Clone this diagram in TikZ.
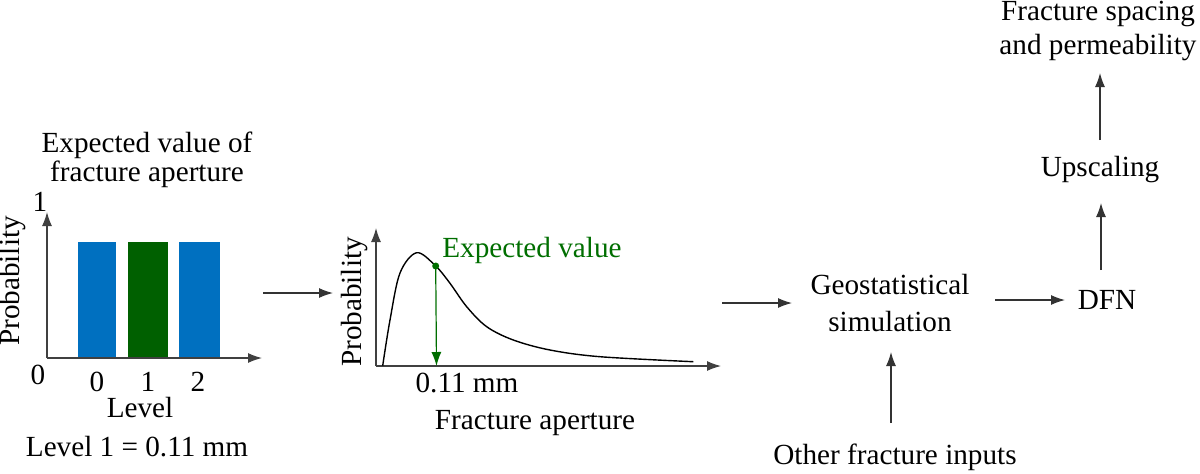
\documentclass[tikz,border=0pt]{standalone}
\usepackage{fontspec}
\setmainfont{Liberation Serif}
\usetikzlibrary{arrows.meta}
\definecolor{barblue}{RGB}{0,112,192}
\definecolor{bargreen}{RGB}{0,96,0}
\definecolor{txtgreen}{RGB}{0,110,0}
\tikzset{
  lbl/.style={font=\fontsize{14.6}{16}\selectfont, inner sep=0pt, align=center},
  digit/.style={lbl, text height=9pt, text depth=0pt},
  conn/.style={draw=black!80, line width=0.6pt, -{Latex[length=7pt,width=5pt]}},
  axis/.style={draw=black!75, line width=0.6pt, -{Latex[length=7pt,width=5pt]}},
}
\begin{document}
\begin{tikzpicture}[x=0.5pt,y=-0.5pt]
\useasboundingbox (0,0) rectangle (1200,473);
% ---------- chart 1 ----------
\node[lbl, font=\fontsize{14.6}{13.3}\selectfont] (title1) at (147,160) {Expected value of\\fracture aperture};
\coordinate (o1) at (47,358);
\coordinate (y1) at (47,212);
\coordinate (x1) at (262,358);
\draw[axis] (o1) -- (y1);
\draw[axis] (o1) -- (x1);
\fill[barblue] (78,242) rectangle (116,357);
\fill[bargreen] (128,242) rectangle (168,357);
\fill[barblue] (179,242) rectangle (220,357);
\node[digit] (one) at (40,202) {1};
\node[digit] (zero) at (38,375) {0};
\node[digit] (l0) at (97,382) {0};
\node[digit] (l1) at (148,382) {1};
\node[digit] (l2) at (198,382) {2};
\node[lbl, text height=9.5pt, text depth=0pt] (level) at (140,408) {Level};
\node[lbl] (levdef) at (137,447) {Level 1 = 0.11 mm};
\node[lbl, rotate=90] (prob1) at (13,281) {Probability};
% ---------- arrow between charts ----------
\coordinate (c1out) at (263,293);
\coordinate (c2in) at (333,293);
\draw[conn] (c1out) -- (c2in);
% ---------- chart 2 ----------
\coordinate (o2) at (376,366);
\coordinate (y2) at (376,228);
\coordinate (x2) at (721,366);
\draw[axis] (o2) -- (y2);
\draw[axis] (o2) -- (x2);
\draw[black, line width=0.7pt] plot[smooth, tension=0.55] coordinates {
 (382.7,365.7) (390,320) (400,273) (416.7,252.7) (435.7,266) (450,283.3)
 (466.7,306.7) (486.7,326.7) (513.3,340) (550,350) (600,356.7) (693.3,361.7)};
\coordinate (ev) at (435.7,266);
\coordinate (evb) at (436.5,366);
\fill[txtgreen] (ev) circle (3.5);
\draw[draw=txtgreen, line width=0.6pt, -{Latex[length=7pt,width=5pt]}] (ev) -- (evb);
\node[lbl, text=txtgreen, anchor=west] (evl) at (442,250) {Expected value};
\node[lbl] (mm) at (467,383) {0.11 mm};
\node[lbl] (fa) at (535,423) {Fracture aperture};
\node[lbl, rotate=90] (prob2) at (355,302) {Probability};
% ---------- flow ----------
\coordinate (c2out) at (722,303);
\node[lbl, font=\fontsize{14.6}{18.3}\selectfont] (geo) at (890,303) {Geostatistical\\simulation};
\node[lbl] (dfn) at (1107,300) {DFN};
\node[lbl] (up) at (1100,170) {Upscaling};
\node[lbl, font=\fontsize{14.6}{16.7}\selectfont] (fsp) at (1098,31) {Fracture spacing\\and permeability};
\node[lbl] (other) at (895,457) {Other fracture inputs};
\coordinate (geoin) at (792,303);
\draw[conn] (c2out) -- (geoin);
\coordinate (geoout) at (995,300);
\coordinate (dfnin) at (1065,300);
\draw[conn] (geoout) -- (dfnin);
\coordinate (dfnup) at (1101,270);
\coordinate (upin) at (1101,203);
\draw[conn] (dfnup) -- (upin);
\coordinate (upout) at (1100,140);
\coordinate (fspin) at (1100,73);
\draw[conn] (upout) -- (fspin);
\coordinate (otherout) at (891,423);
\coordinate (geobot) at (891,352);
\draw[conn] (otherout) -- (geobot);
\end{tikzpicture}
\end{document}
